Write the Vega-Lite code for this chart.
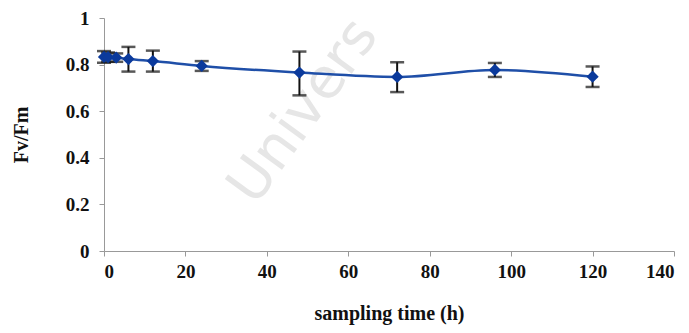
{
  "$schema": "https://vega.github.io/schema/vega-lite/v6.json",
  "width": 570,
  "height": 233,
  "autosize": {"type": "none"},
  "padding": {"left": 104, "top": 18, "right": 15, "bottom": 82},
  "background": "white",
  "config": {
    "view": {"stroke": null},
    "axis": {
      "labelFont": "Liberation Serif",
      "labelFontWeight": "bold",
      "labelFontSize": 19,
      "labelColor": "#111",
      "titleFont": "Liberation Serif",
      "titleFontWeight": "bold",
      "titleFontSize": 20,
      "titleColor": "#111",
      "domainColor": "#999",
      "tickColor": "#999",
      "grid": false
    }
  },
  "data": {
    "values": [
      {"t": 0, "v": 0.833, "lo": 0.808, "hi": 0.858},
      {"t": 1, "v": 0.832, "lo": 0.812, "hi": 0.852},
      {"t": 3, "v": 0.830, "lo": 0.812, "hi": 0.848},
      {"t": 6, "v": 0.824, "lo": 0.770, "hi": 0.876},
      {"t": 12, "v": 0.815, "lo": 0.770, "hi": 0.860},
      {"t": 24, "v": 0.794, "lo": 0.773, "hi": 0.815},
      {"t": 48, "v": 0.766, "lo": 0.668, "hi": 0.856},
      {"t": 72, "v": 0.747, "lo": 0.682, "hi": 0.810},
      {"t": 96, "v": 0.777, "lo": 0.747, "hi": 0.807},
      {"t": 120, "v": 0.748, "lo": 0.704, "hi": 0.792}
    ]
  },
  "layer": [
    {
      "data": {"values": [{"wx": 49, "wy": 0.6, "label": "Univers"}]},
      "mark": {"type": "text", "fontSize": 56, "font": "DejaVu Sans", "angle": 306, "color": "#e6e6e6", "align": "center", "baseline": "middle"},
      "encoding": {
        "x": {"field": "wx", "type": "quantitative", "scale": {"domain": [0, 140]}},
        "y": {"field": "wy", "type": "quantitative", "scale": {"domain": [0, 1]}},
        "text": {"field": "label"}
      }
    },
    {
      "mark": {"type": "rule", "color": "#111", "strokeWidth": 2},
      "encoding": {
        "x": {"field": "t", "type": "quantitative"},
        "y": {"field": "lo", "type": "quantitative"},
        "y2": {"field": "hi"}
      }
    },
    {
      "mark": {"type": "tick", "orient": "horizontal", "color": "#111", "size": 14, "thickness": 2.5},
      "encoding": {
        "x": {"field": "t", "type": "quantitative"},
        "y": {"field": "lo", "type": "quantitative"}
      }
    },
    {
      "mark": {"type": "tick", "orient": "horizontal", "color": "#111", "size": 14, "thickness": 2.5},
      "encoding": {
        "x": {"field": "t", "type": "quantitative"},
        "y": {"field": "hi", "type": "quantitative"}
      }
    },
    {
      "mark": {"type": "line", "color": "#1f4fa8", "strokeWidth": 2.5, "interpolate": "monotone"},
      "encoding": {
        "x": {
          "field": "t", "type": "quantitative",
          "scale": {"domain": [0, 140], "nice": false},
          "axis": {"values": [0, 20, 40, 60, 80, 100, 120, 140], "format": "d", "title": "sampling time (h)", "labelPadding": 6, "titlePadding": 22, "tickSize": 5}
        },
        "y": {
          "field": "v", "type": "quantitative",
          "scale": {"domain": [0, 1], "nice": false},
          "axis": {"values": [0, 0.2, 0.4, 0.6, 0.8, 1], "format": "~g", "title": "Fv/Fm", "labelPadding": 10, "titlePadding": 34, "tickSize": 5}
        }
      }
    },
    {
      "mark": {"type": "point", "shape": "diamond", "filled": true, "color": "#0b3a9c", "size": 150, "opacity": 1},
      "encoding": {
        "x": {"field": "t", "type": "quantitative"},
        "y": {"field": "v", "type": "quantitative"}
      }
    }
  ]
}
